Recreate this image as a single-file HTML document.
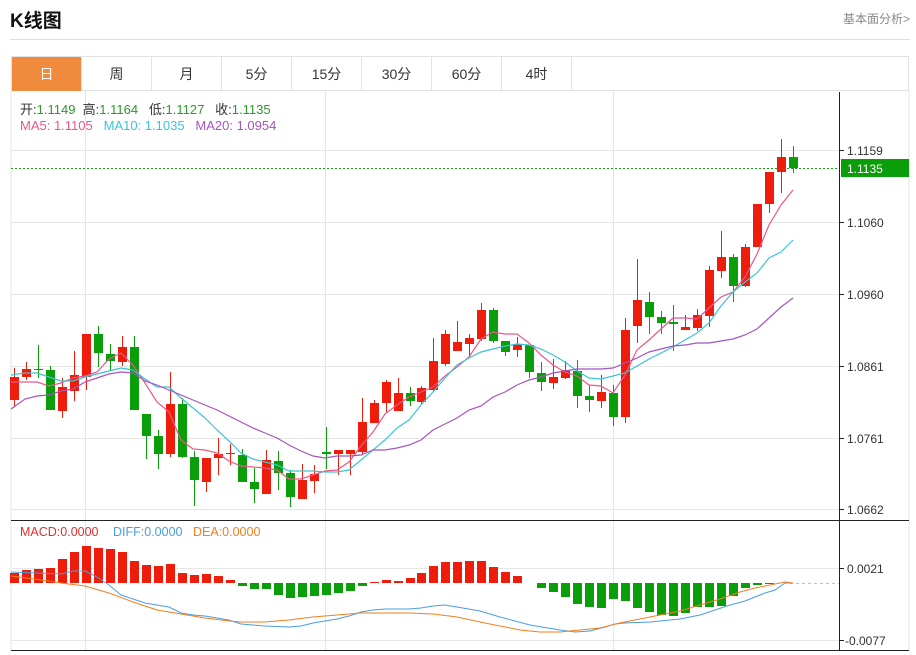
<!DOCTYPE html>
<html><head><meta charset="utf-8">
<style>
body{margin:0;width:916px;height:655px;background:#fff;font-family:"Liberation Sans","Noto Sans CJK SC",sans-serif;position:relative;overflow:hidden}
.t{position:absolute;left:10px;top:6px;font-size:19px;font-weight:bold;color:#111}
.r{position:absolute;right:6px;top:10px;font-size:12px;color:#888}
.hl{position:absolute;left:10px;width:900px;top:39px;height:1px;background:#ddd}
.tabs{position:absolute;left:11px;top:56px;height:35px;width:898px;border:1px solid #e2e2e2;box-sizing:border-box}
.tab{position:absolute;top:0;height:34px;width:70px;text-align:center;line-height:34px;font-size:14px;color:#333;border-right:1px solid #e2e2e2;box-sizing:border-box}
.info{position:absolute;left:20px;font-size:13px}
</style></head><body>
<div class="t">K线图</div>
<div class="r">基本面分析&gt;</div>
<div class="hl"></div>
<div class="tabs">
<div class="tab" style="left:0;background:#f08a3c;color:#fff">日</div>
<div class="tab" style="left:70px">周</div>
<div class="tab" style="left:140px">月</div>
<div class="tab" style="left:210px">5分</div>
<div class="tab" style="left:280px">15分</div>
<div class="tab" style="left:350px">30分</div>
<div class="tab" style="left:420px">60分</div>
<div class="tab" style="left:490px">4时</div>
</div>
<svg id="s" width="916" height="655" style="position:absolute;left:0;top:0">
<g stroke="#e6e6e6" stroke-width="1">
<line x1="11" y1="91" x2="11" y2="651"/><line x1="909" y1="91" x2="909" y2="651"/>
<line x1="11" y1="150.5" x2="839" y2="150.5"/><line x1="11" y1="222.5" x2="839" y2="222.5"/>
<line x1="11" y1="294.5" x2="839" y2="294.5"/><line x1="11" y1="366.5" x2="839" y2="366.5"/>
<line x1="11" y1="438.5" x2="839" y2="438.5"/><line x1="11" y1="509.5" x2="839" y2="509.5"/>
<line x1="85.5" y1="91" x2="85.5" y2="651"/><line x1="325.5" y1="91" x2="325.5" y2="651"/><line x1="613.5" y1="91" x2="613.5" y2="651"/>
<line x1="11" y1="568.5" x2="839" y2="568.5"/><line x1="11" y1="640.5" x2="839" y2="640.5"/>
</g>
<line x1="839.5" y1="92" x2="839.5" y2="651" stroke="#222"/>
<line x1="11" y1="520.5" x2="909" y2="520.5" stroke="#222"/>
<line x1="11" y1="650.5" x2="909" y2="650.5" stroke="#222"/>
<g stroke="#222"><line x1="839" y1="150.5" x2="844" y2="150.5"/><line x1="839" y1="222.5" x2="844" y2="222.5"/><line x1="839" y1="294.5" x2="844" y2="294.5"/><line x1="839" y1="366.5" x2="844" y2="366.5"/><line x1="839" y1="438.5" x2="844" y2="438.5"/><line x1="839" y1="509.5" x2="844" y2="509.5"/><line x1="839" y1="568.5" x2="844" y2="568.5"/><line x1="839" y1="640.5" x2="844" y2="640.5"/></g>
<g font-size="12" fill="#333" font-family="Liberation Sans,sans-serif">
<text x="847" y="155">1.1159</text><text x="847" y="227">1.1060</text><text x="847" y="299">1.0960</text><text x="847" y="371">1.0861</text><text x="847" y="443">1.0761</text><text x="847" y="514">1.0662</text>
<text x="847" y="573">0.0021</text><text x="845" y="645">-0.0077</text>
</g>
<line x1="11" y1="168.5" x2="839" y2="168.5" stroke="#1a9a1a" stroke-dasharray="2,2"/>
<rect x="841" y="159" width="68" height="18" fill="#0a9e0a"/>
<text x="847" y="173" font-size="12" fill="#fff">1.1135</text>
<line x1="790" y1="583.5" x2="839" y2="583.5" stroke="#9cc7e8" stroke-dasharray="3,3"/>
<g id="c"></g>
<polyline fill="none" stroke="#e8588a" stroke-width="1.2" points="11,382 25,382 37,382 49,386 61,383 73,378 85,376 97,372 109,359 121,353 133,365 145,383 157,402 169,412 181,440 193,449 205,450 217,453 229,461 241,466 253,467 265,468 277,470 289,479 301,479 313,475 325,471 337,470 349,462 361,446 373,432 385,414 397,405 409,397 421,392 433,387 445,376 457,367 469,357 481,339 493,332 505,334 517,334 529,343 541,355 553,365 565,372 577,376 589,385 601,386 613,393 625,375 637,350 649,340 661,329 673,318 685,318 697,319 709,308 721,297 733,292 745,277 757,254 769,225 781,205 793,190"/>
<polyline fill="none" stroke="#3cc4d4" stroke-width="1.2" points="11,375 25,373 37,373 49,377 61,381 73,381 85,377 97,374 109,371 121,368 133,370 145,379 157,387 169,387 181,398 193,408 205,418 217,430 229,441 241,453 253,459 265,462 277,465 289,471 301,471 313,471 325,472 337,472 349,470 361,460 373,450 385,440 397,428 409,420 421,405 433,392 445,378 457,365 469,358 481,352 493,349 505,346 517,344 529,345 541,349 553,355 565,362 577,371 589,378 601,379 613,376 625,373 637,366 649,359 661,353 673,347 685,340 697,333 709,323 721,306 733,292 745,282 757,273 769,258 781,252 793,240"/>
<polyline fill="none" stroke="#a555c0" stroke-width="1.2" points="11,409 25,399 37,396 49,395 61,391 73,389 85,382 97,378 109,374 121,372 133,373 145,381 157,385 169,390 181,395 193,400 205,405 217,410 229,416 241,422 253,428 265,433 277,438 289,445 301,451 313,456 325,458 337,456 349,456 361,455 373,450 385,450 397,448 409,445 421,440 433,430 445,424 457,418 469,410 481,406 493,397 505,392 517,385 529,380 541,377 553,373 565,371 577,369 589,369 601,369 613,368 625,363 637,358 649,352 661,349 673,346 685,345 697,343 709,343 721,341 733,339 745,335 757,329 769,318 781,307 793,298"/>
<g id="m"></g>
<polyline fill="none" stroke="#4a9ee0" stroke-width="1" points="11,572 37,573 61,574 73,571 85,571 97,577 109,585 121,595 133,599 145,603 157,605 169,607 181,613 193,615 205,616 217,618 229,620 241,624 253,625 265,626 289,627 301,626 313,623 325,621 337,619 349,616 361,612 373,610 385,609 409,609 421,608 433,606 445,605 457,607 480,611 500,617 530,625 560,630 575,632 590,631 605,627 615,624 625,623 650,622 680,619 700,615 715,610 730,605 745,601 755,597 765,593 775,590 785,583 793,583"/>
<polyline fill="none" stroke="#f07f1e" stroke-width="1" points="11,576 49,581 61,583 85,586 109,593 133,602 157,610 181,614 205,618 229,621 241,622 265,622 289,620 313,617 337,615 361,613 385,613 409,613 433,614 457,617 480,622 500,626 520,630 540,632 560,632 580,630 600,628 620,623 650,617 680,611 700,605 720,599 740,592 755,588 770,585 785,582 793,583"/>
<g font-size="12.5" font-family="Liberation Sans,sans-serif"><text x="20" y="536" fill="#e03030">MACD:0.0000</text><text x="113" y="536" fill="#4a9ee0">DIFF:0.0000</text><text x="193" y="536" fill="#f07f1e">DEA:0.0000</text></g>
</svg>
<div class="info" style="top:99px;color:#333">开:<span style="color:#2a9a2a">1.1149</span>&nbsp;&nbsp;高:<span style="color:#2a9a2a">1.1164</span>&nbsp;&nbsp;&nbsp;低:<span style="color:#2a9a2a">1.1127</span>&nbsp;&nbsp;&nbsp;收:<span style="color:#2a9a2a">1.1135</span></div>
<div class="info" style="top:118px"><span style="color:#e8588a">MA5: 1.1105</span>&nbsp;&nbsp;&nbsp;<span style="color:#3cc4d4">MA10: 1.1035</span>&nbsp;&nbsp;&nbsp;<span style="color:#a555c0">MA20: 1.0954</span></div>
<script>
var R='#ee1c0a',G='#0a9e0a';
var d=[[377,400,368,407,R],[369,377,362,380,R],[369,370,345,378,G],[370,410,366,410,G],[387,411,378,418,R],[375,391,351,401,R],[334,377,334,390,R],[334,353,326,367,G],[354,361,344,371,G],[347,362,336,366,R],[347,410,336,410,G],[414,436,414,459,G],[436,454,430,469,G],[404,454,372,457,R],[404,457,398,458,G],[457,480,451,506,G],[458,482,458,492,R],[454,458,438,475,R],[453,454,444,465,R],[455,482,449,482,G],[482,489,468,503,G],[460,494,450,494,R],[461,473,451,490,G],[473,497,470,507,G],[480,499,464,499,R],[474,481,465,493,R],[452,454,427,469,G],[450,454,450,475,R],[450,454,450,475,R],[422,452,398,455,R],[403,423,400,423,R],[382,403,380,412,R],[393,411,378,411,R],[393,401,387,406,G],[388,402,386,404,R],[361,390,338,392,R],[334,364,330,366,R],[342,351,321,351,R],[338,344,334,358,R],[310,339,303,341,R],[310,341,308,343,G],[341,352,341,356,G],[344,350,337,357,R],[345,372,345,378,G],[373,382,362,391,G],[377,383,359,389,R],[370,378,361,379,R],[371,396,360,408,G],[396,400,385,412,G],[392,401,375,408,R],[393,417,385,426,G],[330,417,318,423,R],[300,326,259,343,R],[302,317,292,334,G],[317,323,311,334,G],[322,324,305,351,G],[327,330,315,330,R],[315,328,309,331,R],[270,316,266,327,R],[257,271,231,278,R],[257,286,254,302,G],[247,286,244,287,R],[204,247,204,247,R],[172,204,172,213,R],[157,172,139,193,R],[157,168,146,173,G]];
var h='';d.forEach(function(c,i){var x=Math.round(14+i*11.985);h+='<line x1="'+(x+.5)+'" y1="'+c[2]+'" x2="'+(x+.5)+'" y2="'+c[3]+'" stroke="'+c[4]+'"/><rect x="'+(x-4)+'" y="'+c[0]+'" width="9" height="'+Math.max(1,c[1]-c[0])+'" fill="'+c[4]+'"/>';});
document.getElementById('c').innerHTML=h;
var m=[573,570,569,568,559,552,546,548,549,552,561,565,566,564,573,575,574,576,580,586,589,589,595,598,597,596,595,593,591,586,582,580,581,578,573,566,562,562,561,561,567,572,576,583,588,592,597,604,607,608,599,601,608,612,615,616,613,607,607,606,596,588,585,584];
var z=583,g='';m.forEach(function(v,i){var x=Math.round(14+i*11.985);if(Math.abs(v-z)<1)return;var up=v<z;g+='<rect x="'+(x-4)+'" y="'+(up?v:z)+'" width="9" height="'+Math.abs(v-z)+'" fill="'+(up?R:G)+'"/>';});
document.getElementById('m').innerHTML=g;
</script>
</body></html>
